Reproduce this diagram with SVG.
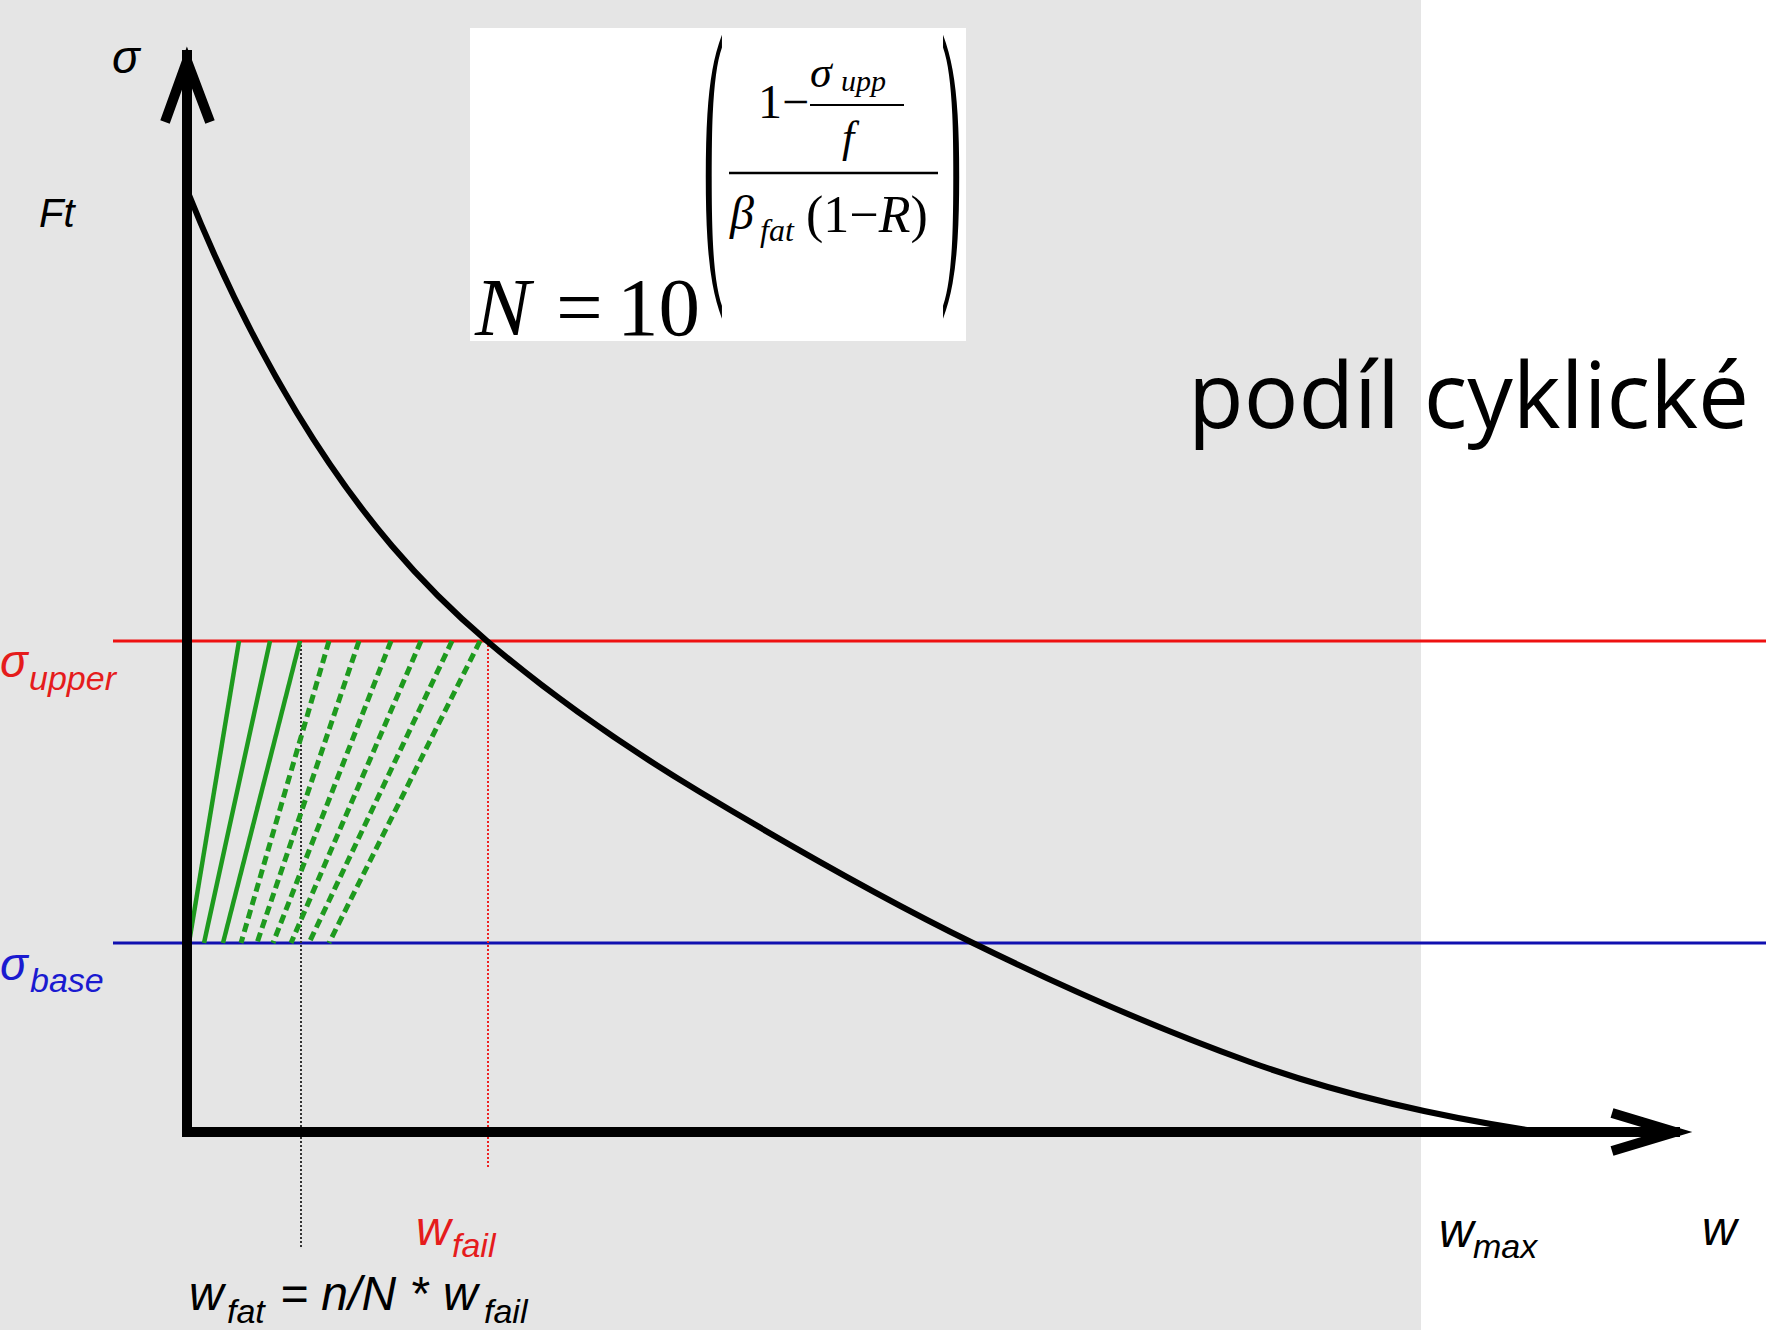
<svg xmlns="http://www.w3.org/2000/svg" width="1766" height="1330" viewBox="0 0 1766 1330">
  <style>
    .lbl { font-family: "Liberation Sans", Arial, sans-serif; font-style: italic; }
    .big { font-size: 48px; }
    .sub { font-size: 34px; }
    .math { font-family: "Liberation Serif", "Times New Roman", serif; }
    .it { font-style: italic; }
    .green { stroke: #1e9a1e; stroke-width: 4.5; fill: none; }
    .dash { stroke-dasharray: 9 5; stroke-width: 5; }
  </style>
  <rect x="0" y="0" width="1766" height="1330" fill="#ffffff"/>
  <rect id="panel" x="0" y="0" width="1421" height="1330" fill="#e5e5e5"/>

  <g id="formula">
    <rect x="470" y="28" width="496" height="313" fill="#ffffff"/>
    <text class="math it" x="475" y="335" font-size="83">N</text>
    <text class="math" x="556" y="335" font-size="83">=</text>
    <text class="math" x="617" y="335" font-size="83">10</text>
    <text class="math" font-size="63" transform="translate(703,252) scale(1,4.97)">(</text>
    <text class="math" font-size="63" transform="translate(941,252) scale(1,4.97)">)</text>
    <text class="math" x="758" y="118" font-size="48">1−</text>
    <text class="math it" x="810" y="87" font-size="44">σ</text>
    <text class="math it" x="841" y="91" font-size="30">upp</text>
    <line x1="810" y1="105" x2="904" y2="105" stroke="#000" stroke-width="2"/>
    <text class="math it" x="842" y="152" font-size="44">f</text>
    <line x1="729" y1="173" x2="938" y2="173" stroke="#000" stroke-width="2.5"/>
    <text class="math it" x="730" y="229" font-size="48">β</text>
    <text class="math it" x="760" y="241" font-size="32">fat</text>
    <text class="math" x="806" y="232" font-size="52">(1−<tspan class="it">R</tspan>)</text>
  </g>

  <g id="title">
    <text x="1188" y="428" font-family="'Open Sans', 'Noto Sans', sans-serif" font-size="91" fill="#000">podíl cyklické</text>
  </g>

  <g id="connectors">
    <line id="sigma-upper-line" x1="113" y1="641" x2="1766" y2="641" stroke="#ee1111" stroke-width="3"/>
    <line id="sigma-base-line" x1="113" y1="943" x2="1766" y2="943" stroke="#1010b0" stroke-width="3"/>
    <line id="wfail-drop" x1="488" y1="641" x2="488" y2="1167" stroke="#ee2222" stroke-width="2" stroke-dasharray="2 2"/>
    <line id="wfat-drop" x1="301" y1="641" x2="301" y2="1247" stroke="#333333" stroke-width="2" stroke-dasharray="2 2"/>
    <g id="cycles">
      <line class="green" x1="239" y1="641" x2="189" y2="943"/>
      <line class="green" x1="270" y1="641" x2="204" y2="943"/>
      <line class="green" x1="300" y1="641" x2="223" y2="943"/>
      <line class="green dash" x1="329" y1="641" x2="241" y2="943"/>
      <line class="green dash" x1="359" y1="641" x2="257" y2="943"/>
      <line class="green dash" x1="391" y1="641" x2="273" y2="943"/>
      <line class="green dash" x1="421" y1="641" x2="291" y2="943"/>
      <line class="green dash" x1="452" y1="641" x2="309" y2="943"/>
      <line class="green dash" x1="480" y1="641" x2="329" y2="943"/>
    </g>
    <path id="softening-curve" d="M187,190 C223.7,281.7 260.3,352.5 297,413 C360.3,517.5 423.7,587.2 487,641 C558,701.4 629,749.4 700,792 C791,846.6 882,898.4 973,943 C1065.3,988.2 1157.7,1028.8 1250,1062 C1346.7,1096.8 1443.3,1117.5 1540,1132" fill="none" stroke="#000" stroke-width="6"/>
    <path id="axes" d="M187,50 L187,1132 L1680,1132" fill="none" stroke="#000" stroke-width="10" stroke-linejoin="miter"/>
    <path id="y-arrow" d="M165,122 L187,61 L210,122" fill="none" stroke="#000" stroke-width="10" stroke-linejoin="miter"/>
    <path id="x-arrow" d="M1612,1113 L1675,1132 L1612,1151" fill="none" stroke="#000" stroke-width="10" stroke-linejoin="miter"/>
  </g>

  <g id="labels">
    <text class="lbl" x="112" y="73" font-size="46">σ</text>
    <text class="lbl" x="39" y="227" font-size="40">Ft</text>
    <g id="label-upper" fill="#e51c1c">
      <text class="lbl" x="0" y="677" font-size="46">σ</text>
      <text class="lbl sub" x="29" y="690">upper</text>
    </g>
    <g id="label-base" fill="#1a1ad0">
      <text class="lbl" x="0" y="980" font-size="46">σ</text>
      <text class="lbl sub" x="30" y="992">base</text>
    </g>
    <g id="label-wfail" fill="#e51c1c">
      <text class="lbl big" x="416" y="1245">w</text>
      <text class="lbl sub" x="452" y="1257">fail</text>
    </g>
    <g id="label-wmax" fill="#000">
      <text class="lbl big" x="1439" y="1247">w</text>
      <text class="lbl sub" x="1473" y="1258">max</text>
    </g>
    <text class="lbl big" x="1702" y="1245">w</text>
    <g id="label-wfat" fill="#000">
      <text class="lbl big" x="189" y="1310">w</text>
      <text class="lbl sub" x="227" y="1323">fat</text>
      <text class="lbl big" x="280" y="1310">= n/N *</text>
      <text class="lbl big" x="443" y="1310">w</text>
      <text class="lbl sub" x="484" y="1323">fail</text>
    </g>
  </g>
</svg>
